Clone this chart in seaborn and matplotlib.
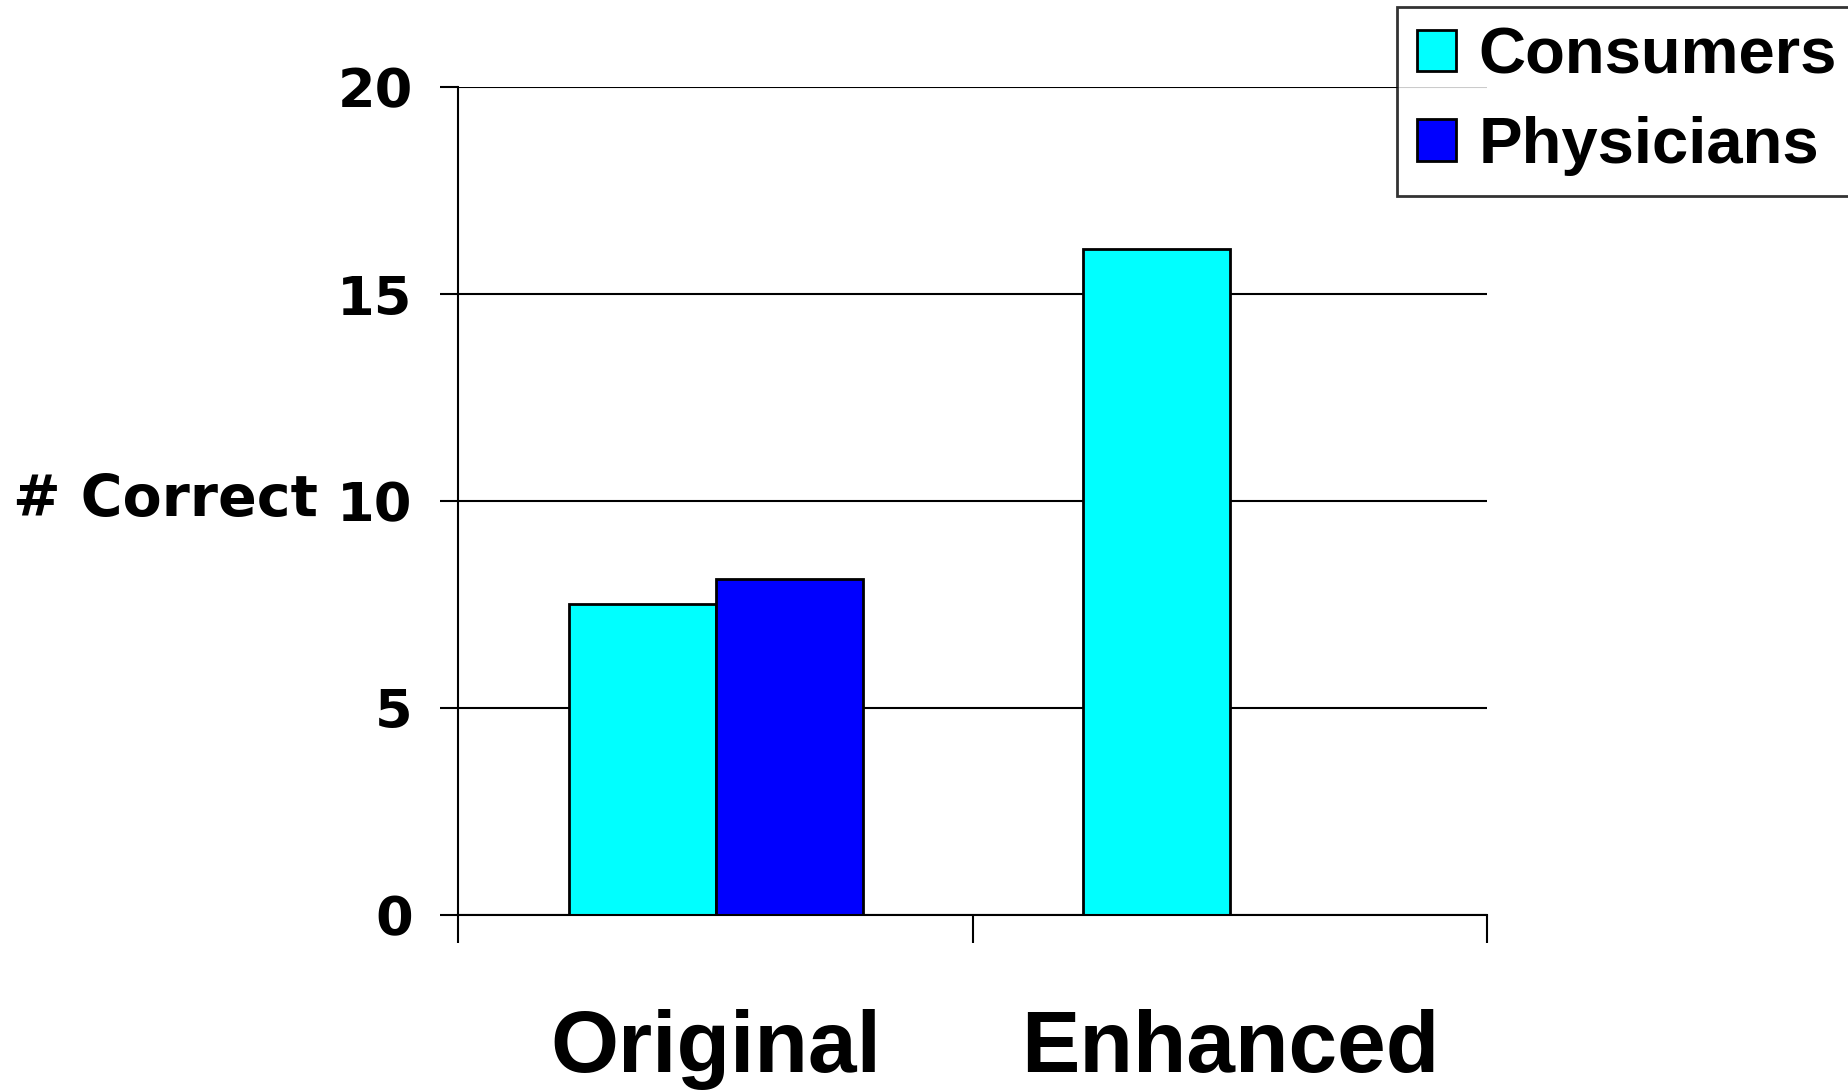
import pandas as pd
import matplotlib.pyplot as plt
import seaborn as sns

# Values
versions = ["Original", "Original", "Enhanced"]
groups = ["Consumers", "Physicians", "Consumers"]
n_correct = [7.5, 8.1, 16.1]

order = ["Original", "Enhanced"]
hue_order = ["Consumers", "Physicians"]
colors = {"Consumers": "#00FFFF", "Physicians": "#0000FF"}

df = pd.DataFrame({"version": versions, "group": groups, "correct": n_correct})

sns.set_style("white")
plt.rcParams["font.family"] = ["DejaVu Sans"]
plt.rcParams["text.color"] = "black"
plt.rcParams["axes.labelcolor"] = "black"
plt.rcParams["xtick.color"] = "black"
plt.rcParams["ytick.color"] = "black"

fig = plt.figure(figsize=(18.48, 10.91), dpi=100)
ax = fig.add_axes([0.2481, 0.1617, 0.5566, 0.7584])

sns.barplot(data=df, x="version", y="correct", hue="group", order=order,
            hue_order=hue_order, palette=colors, width=0.572,
            edgecolor="black", linewidth=2, saturation=1, ax=ax, legend=False)

ax.set_xlim(-0.5, 1.5)
ax.set_ylim(0, 20)
ax.set_yticks([0, 5, 10, 15, 20])
ax.yaxis.grid(True, color="black", linewidth=1.5)
ax.set_axisbelow(True)

for s in ["top", "right"]:
    ax.spines[s].set_visible(False)
for s in ["left", "bottom"]:
    ax.spines[s].set_color("black")
    ax.spines[s].set_linewidth(1.5)

# y ticks
ax.tick_params(axis="y", direction="out", length=13, width=1.5, color="black",
               left=True, pad=20, labelsize=39)
for t in ax.get_yticklabels():
    t.set_fontweight("bold")

# x: labels at centres, tick marks at category boundaries
ax.set_xticks([0, 1])
ax.set_xticklabels(order, fontsize=63, fontweight="bold", family="Liberation Sans")
ax.set_xticks([-0.5, 0.5, 1.5], minor=True)
ax.tick_params(axis="x", which="major", length=0, pad=68)
ax.tick_params(axis="x", which="minor", direction="out", length=20, width=1.5,
               color="black", bottom=True)

ax.set_xlabel("")
ax.set_ylabel("# Correct", rotation=0, fontsize=41, fontweight="bold",
              ha="right", va="center")
ax.yaxis.set_label_coords(-0.1365, 0.5)

handles = [plt.Rectangle((0, 0), 1, 1, facecolor=colors[h], edgecolor="black", linewidth=2)
           for h in hue_order]
leg = fig.legend(handles, hue_order, loc="upper left",
                 bbox_to_anchor=(1397 / 1848, 1 - 7 / 1091),
                 prop={"family": "Liberation Sans", "weight": "bold", "size": 47},
                 frameon=True, fancybox=False, edgecolor="black",
                 handlelength=0.6, handleheight=0.6, handletextpad=0.35,
                 borderpad=0.3, labelspacing=0.45, borderaxespad=0)
leg.get_frame().set_linewidth(2)

fig.savefig("out.png", dpi=100)
